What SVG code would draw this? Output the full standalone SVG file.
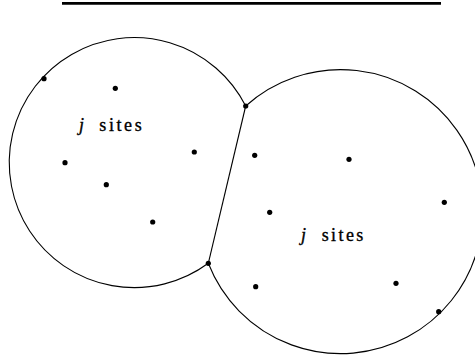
<svg xmlns="http://www.w3.org/2000/svg" width="475" height="360" viewBox="0 0 475 360">
<style>
.edge{fill:none;stroke:#000;stroke-width:1.1}
.dot{fill:#000}
.lbl{font-family:'Liberation Serif','Times New Roman','DejaVu Serif',serif;font-size:18px;fill:#000;stroke:#000;stroke-width:0.35}
.it{font-style:italic}
</style>
<rect width="475" height="360" fill="#fff"/>
<line x1="62" y1="3.4" x2="441" y2="3.4" stroke="#000" stroke-width="2.6"/>
<g id="connectors">
<path class="edge" d="M245.7,106 A125,125 0 1 0 208.3,263.3"/>
<path class="edge" d="M245.7,106 A142,142 0 1 1 208.3,263.3"/>
<line class="edge" x1="245.7" y1="106" x2="208.3" y2="263.3"/>
</g>
<g id="vertices">
<circle class="dot" cx="245.7" cy="106" r="2.6"/>
<circle class="dot" cx="208.3" cy="263.3" r="2.6"/>
</g>
<g id="region-left">
<circle class="dot" cx="44" cy="78.7" r="2.6"/>
<circle class="dot" cx="115.3" cy="88.3" r="2.6"/>
<circle class="dot" cx="65" cy="162.7" r="2.6"/>
<circle class="dot" cx="106.3" cy="184.7" r="2.6"/>
<circle class="dot" cx="194.3" cy="152" r="2.6"/>
<circle class="dot" cx="152.7" cy="222" r="2.6"/>
<text class="lbl it" x="79" y="130.7">j</text>
<text class="lbl" x="99.3" y="130.7" textLength="42.4" lengthAdjust="spacing">sites</text>
</g>
<g id="region-right">
<circle class="dot" cx="254.7" cy="155.3" r="2.6"/>
<circle class="dot" cx="349" cy="159.3" r="2.6"/>
<circle class="dot" cx="269.7" cy="212.3" r="2.6"/>
<circle class="dot" cx="444.3" cy="202.3" r="2.6"/>
<circle class="dot" cx="255.7" cy="286.7" r="2.6"/>
<circle class="dot" cx="396" cy="283.3" r="2.6"/>
<circle class="dot" cx="438.7" cy="311.7" r="2.6"/>
<text class="lbl it" x="301" y="240.7">j</text>
<text class="lbl" x="321.7" y="240.7" textLength="41.6" lengthAdjust="spacing">sites</text>
</g>
</svg>
